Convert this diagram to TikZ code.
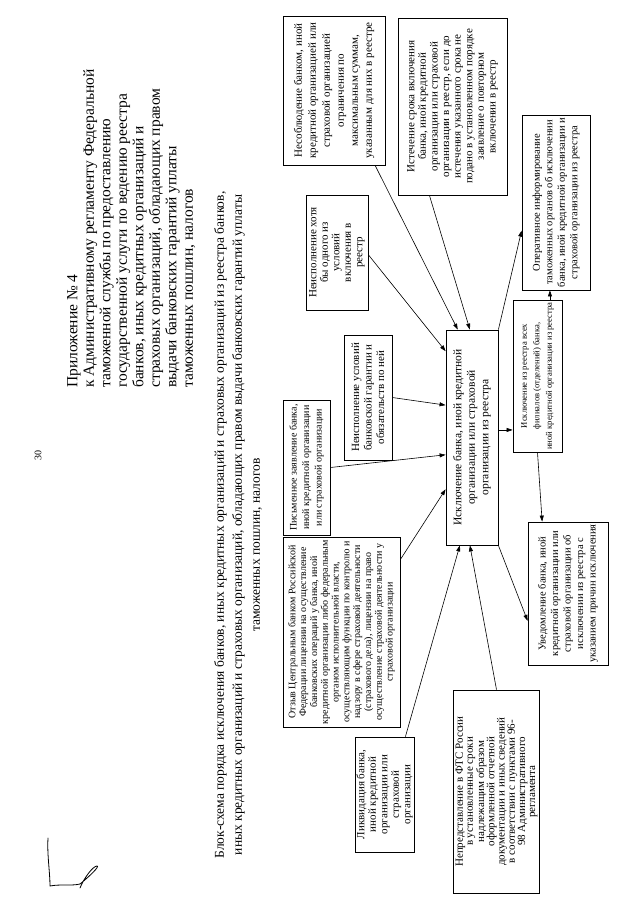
\documentclass[tikz,border=0pt]{standalone}
\usepackage{fontspec}
\setmainfont{Liberation Serif}
\usepackage{graphicx}
\usetikzlibrary{arrows.meta,calc}
\newcommand{\rottxt}[2]{\rotatebox{90}{\parbox{#1}{\centering #2}}}
\begin{document}
\begin{tikzpicture}[x=1pt,y=-1pt,
  box/.style={draw, line width=0.8pt, inner sep=0pt},
  arr/.style={-{Triangle[length=6pt,width=4pt]}, line width=0.6pt},
  ln/.style={line width=0.6pt}]
\useasboundingbox (0,0) rectangle (640,900);
\fill[white] (0,0) rectangle (640,900);

% page number
\node (pnum) at (38,455) {\rotatebox{90}{\fontsize{10}{12}\selectfont 30}};

% header
\node[anchor=south west, inner sep=0pt] (hdr) at (67,388) {\rotatebox{90}{\parbox{340pt}{\raggedright\fontsize{15.5}{16.5}\selectfont
Приложение № 4\\
к Административному регламенту Федеральной\\
таможенной службы по предоставлению\\
государственной услуги по ведению реестра\\
банков, иных кредитных организаций и\\
страховых организаций, обладающих правом\\
выдачи банковских гарантий уплаты\\
таможенных пошлин, налогов}}};

% title
\node[inner sep=0pt] (title) at (238,525) {\rotatebox{90}{\parbox{700pt}{\centering\fontsize{13.5}{18}\selectfont
Блок-схема порядка исключения  банков, иных кредитных организаций и страховых организаций из реестра банков,\\
иных кредитных организаций и страховых организаций, обладающих правом выдачи банковских гарантий уплаты\\
\hspace*{-40pt}таможенных пошлин, налогов}}};

% boxes
\node[box, minimum width=102pt, minimum height=149pt] (nesobl) at (334,90.5) {\rottxt{145pt}{\fontsize{11}{14}\selectfont
Несоблюдение банком, иной\\ кредитной организацией или\\ страховой организацией\\ ограничения по\\ максимальным суммам,\\ указанным для них в реестре}};

\node[box, minimum width=109pt, minimum height=177pt] (istech) at (452.5,106.5) {\rottxt{172pt}{\fontsize{11}{11.6}\selectfont
Истечение срока включения\\ банка, иной кредитной\\ организации или страховой\\ организации в реестр, если до\\ истечения указанного срока не\\ подано в установленном порядке\\ заявление о повторном\\ включении в реестр}};

\node[box, minimum width=62pt, minimum height=115pt] (hotya) at (337,252.5) {\rottxt{110pt}{\fontsize{11}{11.5}\selectfont
Неисполнение хотя\\ бы одного из\\ условий\\ включения в\\ реестр}};

\node[box, minimum width=48pt, minimum height=125pt] (neusl) at (368,397.5) {\rottxt{120pt}{\fontsize{11}{12.5}\selectfont
Неисполнение условий\\ банковской гарантии и\\ обязательств по ней}};

\node[box, minimum width=47pt, minimum height=135pt] (pism) at (306.5,467.5) {\rottxt{132pt}{\fontsize{10}{12.5}\selectfont
Письменное заявление банка,\\ иной кредитной организации\\ или страховой организации}};

\node[box, minimum width=117pt, minimum height=190pt] (otzyv) at (341.5,632) {\rottxt{188pt}{\fontsize{10}{10.8}\selectfont
Отзыв Центральным банком Российской\\ Федерации лицензии на осуществление\\ банковских операций у банка, иной\\ кредитной организации либо федеральным\\ органом исполнительной власти,\\ осуществляющим функции по контролю и\\ надзору в сфере страховой деятельности\\ (страхового дела), лицензии на право\\ осуществление страховой деятельности у\\ страховой организации}};

\node[box, minimum width=59pt, minimum height=115pt] (likv) at (384.5,794.5) {\rottxt{110pt}{\fontsize{11}{11.5}\selectfont
Ликвидация банка,\\ иной кредитной\\ организации или\\ страховой\\ организации}};

\node[box, minimum width=86pt, minimum height=203pt] (nepred) at (496.5,791.5) {\rottxt{198pt}{\fontsize{11}{10.2}\selectfont
Непредставление в ФТС России\\ в установленные сроки\\ надлежащим образом\\ оформленной отчетной\\ документации и иных сведений\\ в соответствии с пунктами 96-\\ 98 Административного\\ регламента}};

\node[box, minimum width=52pt, minimum height=215pt] (central) at (472,437.5) {\rottxt{210pt}{\fontsize{11.5}{13.5}\selectfont
Исключение банка, иной кредитной\\ организации или страховой\\ организации из реестра}};

\node[box, minimum width=49pt, minimum height=152pt] (filial) at (537.5,376) {\rottxt{150pt}{\fontsize{8.6}{12.5}\selectfont
Исключение из реестра всех\\ филиалов (отделений) банка,\\ иной кредитной организации из реестра}};

\node[box, minimum width=68pt, minimum height=175pt] (operat) at (556,202.5) {\rottxt{172pt}{\fontsize{10.5}{12.5}\selectfont
Оперативное информирование\\ таможенных органов об исключении\\ банка, иной кредитной организации и\\ страховой организации из реестра}};

\node[box, minimum width=80pt, minimum height=143pt] (uved) at (568,593.5) {\rottxt{140pt}{\fontsize{10.5}{12.5}\selectfont
Уведомление банка, иной\\ кредитной организации или\\ страховой организации об\\ исключении из реестра с\\ указанием причин исключения}};

% connectors into central box
\draw[arr] ($(nesobl.south west)!0.9!(nesobl.south east)$) -- ($(central.north west)!0.23!(central.north east)$);
\draw[arr] ($(hotya.north east)!0.52!(hotya.south east)$) -- ($(central.north west)!0.1!(central.south west)$);
\draw[arr] ($(istech.south west)!0.29!(istech.south east)$) -- ($(central.north west)!0.46!(central.north east)$);
\draw[arr] (neusl.east) -- ($(central.north west)!0.35!(central.south west)$);
\draw[arr] (pism.east) -- ($(central.north west)!0.58!(central.south west)$);
\draw[arr] ($(otzyv.north east)!0.12!(otzyv.south east)$) -- ($(central.north west)!0.74!(central.south west)$);
\draw[arr] ($(likv.north west)!0.85!(likv.north east)$) -- ($(central.south west)!0.27!(central.south east)$);
\draw[arr] ($(nepred.north west)!0.5!(nepred.north east)$) -- ($(central.south west)!0.46!(central.south east)$);

% connectors out of central box
\coordinate (cf) at ($(central.north east)!0.465!(central.south east)$);
\draw[arr] (cf) -- (cf -| filial.west);
\draw[arr] (central.north east) -- ($(operat.north west)!0.66!(operat.south west)$);
\coordinate (fo) at ($(filial.north west)!0.75!(filial.north east)$);
\draw[arr] (fo) -- (fo |- operat.south);
\draw[arr] ($(filial.south west)!0.5!(filial.south east)$) -- ($(uved.north west)!0.18!(uved.north east)$);
\draw[arr] (central.south east) -- ($(uved.north west)!0.69!(uved.south west)$);

% signature
\draw[line width=0.8pt, line cap=round] (48,838) .. controls (47,855) and (50,872) .. (50,886)
  .. controls (60,884) and (72,886) .. (80,884)
  .. controls (90,876) and (100,866) .. (97,866)
  .. controls (93,866) and (84,878) .. (80,888);
\end{tikzpicture}
\end{document}
